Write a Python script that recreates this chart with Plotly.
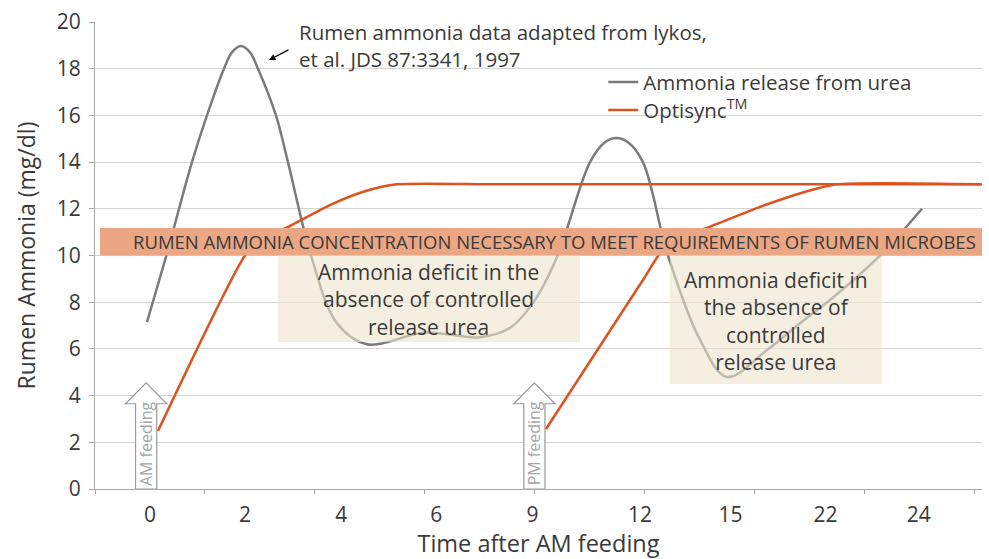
import plotly.graph_objects as go

# ---- data (x in category-slot units) ----
TICK_POS = [0, 0.99, 1.99, 2.98, 3.98, 5.10, 6.04, 7.03, 8.0]
TICK_LABELS = ["0", "2", "4", "6", "9", "12", "15", "22", "24"]

GRAY_X = [-0.031, 0.177, 0.437, 0.593, 0.770, 0.853, 0.947, 1.041, 1.124, 1.311,
          1.436, 1.676, 1.946, 2.258, 2.862, 3.434, 3.746, 3.985, 4.235, 4.579,
          4.735, 4.849, 4.974, 5.130, 5.390, 5.723, 6.004, 6.420, 6.764, 7.107,
          7.596, 8.033]
GRAY_Y = [7.15, 10.1, 14.0, 16.0, 18.0, 18.7, 18.97, 18.7, 18.0, 16.0,
          14.0, 10.0, 7.1, 6.2, 6.7, 6.5, 6.9, 7.97, 9.93, 14.0,
          14.85, 15.03, 14.85, 14.0, 10.0, 6.4, 4.8, 5.95, 7.1, 8.2,
          10.0, 12.0]

OPT1_X = [0.083, 0.989, 1.165, 1.426, 1.873, 2.237, 2.570, 3.642, 8.658]
OPT1_Y = [2.48, 10.0, 10.7, 11.2, 12.16, 12.75, 13.05, 13.05, 13.05]
OPT2_X = [4.121, 5.130, 5.328, 5.567, 5.796, 6.348, 6.795, 7.149, 8.658]
OPT2_Y = [2.57, 8.95, 10.2, 10.85, 11.18, 12.08, 12.7, 13.05, 13.05]

REQ_LOW, REQ_HIGH = 10.0, 11.18
DEFICITS = [  # (x0, x1, y_bottom, text)
    (1.332, 4.475, 6.3, "Ammonia deficit in the<br>absence of controlled<br>release urea"),
    (5.411, 7.617, 4.5, "Ammonia deficit in<br>the absence of<br>controlled<br>release urea"),
]
FEEDINGS = [(-0.04, "AM feeding"), (4.0, "PM feeding")]

GRAY = "#7b7b7b"
ORANGE = "#DC531D"
TXT = "#3a3a3a"
FONT = "Open Sans"

fig = go.Figure()
fig.add_trace(go.Scatter(x=GRAY_X, y=GRAY_Y, mode="lines", name="Ammonia release from urea",
                         legend="legend", showlegend=True,
                         line=dict(color=GRAY, width=2.5, shape="spline", smoothing=1.0)))
fig.add_trace(go.Scatter(x=OPT1_X, y=OPT1_Y, mode="lines", name="Optisync<sup>TM</sup>",
                         legend="legend2", legendgroup="opt", showlegend=True,
                         line=dict(color=ORANGE, width=2.5, shape="spline", smoothing=0.6)))
fig.add_trace(go.Scatter(x=OPT2_X, y=OPT2_Y, mode="lines", name="Optisync<sup>TM</sup>",
                         legend="legend2", legendgroup="opt", showlegend=False,
                         line=dict(color=ORANGE, width=2.5, shape="spline", smoothing=0.6)))

shapes = []
shapes.append(dict(type="rect", xref="x", yref="y", x0=-0.52, x1=8.658, y0=REQ_LOW, y1=REQ_HIGH,
                   fillcolor="#EBA683", line=dict(width=0), layer="above"))
annotations = [dict(x=4.214, y=(REQ_LOW + REQ_HIGH) / 2, xref="x", yref="y", showarrow=False,
                    text="RUMEN AMMONIA CONCENTRATION NECESSARY TO MEET REQUIREMENTS OF RUMEN MICROBES",
                    font=dict(family=FONT, size=18.5, color=TXT))]
for x0, x1, yb, txt in DEFICITS:
    shapes.append(dict(type="rect", xref="x", yref="y", x0=x0, x1=x1, y0=yb, y1=REQ_LOW,
                       fillcolor="#EFE4CD", opacity=0.6, line=dict(width=0), layer="above"))
    annotations.append(dict(x=(x0 + x1) / 2, y=(yb + REQ_LOW) / 2 - 0.05, xref="x", yref="y",
                            showarrow=False, text=txt, align="center",
                            font=dict(family=FONT, size=21, color=TXT)))
sw, hw, sh, tip = 0.11, 0.215, 3.65, 4.55
for c, lab in FEEDINGS:
    path = (f"M {c-sw},0 L {c-sw},{sh} L {c-hw},{sh} L {c},{tip} L {c+hw},{sh} "
            f"L {c+sw},{sh} L {c+sw},0 Z")
    shapes.append(dict(type="path", xref="x", yref="y", path=path, fillcolor="white",
                       line=dict(color="#9a9a9a", width=1.2), layer="above"))
    annotations.append(dict(x=c + 0.005, y=1.95, xref="x", yref="y", showarrow=False,
                            text=lab, textangle=-90,
                            font=dict(family=FONT, size=16, color="#a5a5a5")))
annotations.append(dict(x=1.530, y=19.0, xref="x", yref="y", xanchor="left", yanchor="middle",
                        align="left", showarrow=False,
                        text="Rumen ammonia data adapted from lykos,<br>et al. JDS 87:3341, 1997",
                        font=dict(family=FONT, size=20.5, color=TXT)))
annotations.append(dict(x=1.238, y=18.37, xref="x", yref="y", ax=21, ay=-11, text="",
                        showarrow=True, arrowhead=2, arrowsize=1, arrowwidth=1.3,
                        arrowcolor="black"))

legend_style = dict(xanchor="left", yanchor="middle", bgcolor="rgba(0,0,0,0)",
                    font=dict(family=FONT, size=20.5, color=TXT), itemwidth=30)

fig.update_layout(
    width=989, height=559,
    margin=dict(l=95, r=7, t=22, b=70),
    showlegend=True,
    paper_bgcolor="white", plot_bgcolor="white",
    font=dict(family=FONT, color=TXT),
    shapes=shapes, annotations=annotations,
    legend=dict(x=0.573, y=0.871, **legend_style),
    legend2=dict(x=0.573, y=0.811, **legend_style),
    xaxis=dict(range=[-0.572, 8.658], tickmode="array", tickvals=TICK_POS, ticktext=TICK_LABELS,
               ticks="", showgrid=False, zeroline=False, showline=True, linecolor="#a8a8a8",
               linewidth=1, tickfont=dict(family=FONT, size=21, color=TXT), ticklabelstandoff=7,
               minor=dict(tick0=-0.572, dtick=1.1445, ticks="outside", ticklen=4,
                          tickcolor="#a8a8a8", showgrid=False),
               title=dict(text="Time after AM feeding", standoff=6,
                          font=dict(family=FONT, size=23.5, color=TXT))),
    yaxis=dict(range=[0, 20], tickmode="array", tickvals=list(range(0, 21, 2)),
               ticks="outside", ticklen=5, tickcolor="#a8a8a8", ticklabelstandoff=4,
               ticklabeloverflow="allow",
               showgrid=True, gridcolor="#d4d4d4", gridwidth=1, zeroline=False,
               showline=True, linecolor="#a8a8a8", linewidth=1,
               tickfont=dict(family=FONT, size=21, color=TXT),
               title=dict(text="Rumen Ammonia (mg/dl)", standoff=14,
                          font=dict(family=FONT, size=23, color=TXT))),
)

# remove the default 8px page margin so the figure fills the 989x559 window exactly
fig.write_html("out.html", config={"displayModeBar": False},
               post_script="document.body.style.margin='0';"
                           "document.body.style.overflow='hidden';")
